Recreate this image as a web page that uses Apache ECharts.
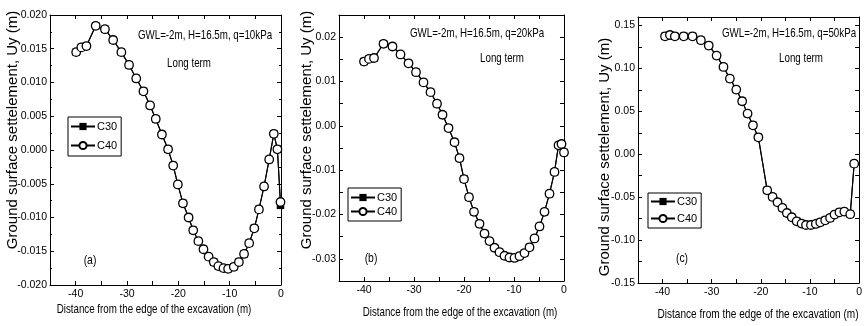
<!DOCTYPE html>
<html>
<head>
<meta charset="utf-8">
<script src="https://cdn.jsdelivr.net/npm/echarts@6/dist/echarts.min.js"></script>
<style>
  html, body { margin: 0; padding: 0; background: #fff; overflow: hidden; }
  #chart { width: 865px; height: 326px; }
</style>
</head>
<body>
<div id="chart"></div>
<script>
// (a) q = 10 kPa
const xA = [-39.9, -38.9, -37.9, -36.1, -34.3, -32.7, -31.1, -29.6, -28.2, -26.8, -25.5, -24.4, -23.2, -22.0, -21.0, -20.1, -19.1, -18.0, -17.1, -16.1, -15.1, -14.1, -13.1, -12.2, -11.2, -10.3, -9.2, -8.2, -7.2, -6.2, -5.2, -4.3, -3.3, -2.3, -1.4, -0.7, -0.1]
const c30A = [0.0145, 0.0152, 0.0154, 0.0184, 0.0179, 0.0163, 0.0145, 0.0126, 0.0106, 0.0087, 0.0066, 0.0046, 0.0023, 0.0001, -0.0023, -0.0051, -0.0079, -0.0100, -0.0119, -0.0135, -0.0147, -0.0158, -0.0166, -0.0172, -0.0175, -0.0176, -0.0173, -0.0166, -0.0154, -0.0138, -0.0116, -0.0088, -0.0054, -0.0014, 0.0024, 0.0001, -0.0082]
const c40A = [0.0145, 0.0152, 0.0154, 0.0184, 0.0179, 0.0163, 0.0145, 0.0126, 0.0106, 0.0087, 0.0066, 0.0046, 0.0023, 0.0001, -0.0023, -0.0051, -0.0079, -0.0100, -0.0119, -0.0135, -0.0147, -0.0158, -0.0166, -0.0172, -0.0175, -0.0176, -0.0173, -0.0166, -0.0154, -0.0138, -0.0116, -0.0088, -0.0054, -0.0014, 0.0024, 0.0001, -0.0077]

// (b) q = 20 kPa
const xB = [-40.0, -39.0, -38.0, -36.1, -34.3, -32.7, -31.1, -29.6, -28.1, -26.7, -25.4, -24.3, -23.1, -21.9, -20.9, -20.0, -19.0, -18.0, -16.9, -15.9, -14.9, -13.9, -12.9, -11.9, -10.9, -9.9, -8.9, -7.9, -6.9, -5.9, -4.9, -3.9, -2.9, -1.9, -1.1, -0.5, 0.0]
const c30B = [0.0145, 0.0151, 0.0153, 0.0185, 0.0179, 0.0161, 0.0141, 0.0121, 0.0098, 0.0076, 0.0050, 0.0025, -0.0005, -0.0037, -0.0073, -0.0120, -0.0161, -0.0194, -0.0221, -0.0243, -0.0260, -0.0275, -0.0285, -0.0293, -0.0297, -0.0298, -0.0294, -0.0287, -0.0274, -0.0254, -0.0227, -0.0194, -0.0153, -0.0104, -0.0044, -0.0041, -0.0060]
const c40B = [0.0145, 0.0151, 0.0153, 0.0185, 0.0179, 0.0161, 0.0141, 0.0121, 0.0098, 0.0076, 0.0050, 0.0025, -0.0005, -0.0037, -0.0073, -0.0120, -0.0161, -0.0194, -0.0221, -0.0243, -0.0260, -0.0275, -0.0285, -0.0293, -0.0297, -0.0298, -0.0294, -0.0287, -0.0274, -0.0254, -0.0227, -0.0194, -0.0153, -0.0104, -0.0044, -0.0041, -0.0060]

// (c) q = 50 kPa
const xC = [-39.5, -38.5, -37.5, -35.7, -33.9, -32.2, -30.6, -29.0, -27.6, -26.3, -25.0, -23.8, -22.7, -21.6, -20.5, -18.7, -17.6, -16.6, -15.6, -14.7, -13.7, -12.7, -11.7, -10.8, -9.8, -8.8, -7.9, -6.9, -5.9, -5.0, -4.0, -3.0, -1.8, -1.0]
const c30C = [0.1375, 0.1390, 0.1375, 0.1375, 0.1375, 0.1330, 0.1267, 0.1150, 0.1018, 0.0882, 0.0754, 0.0618, 0.0474, 0.0338, 0.0198, -0.0420, -0.0497, -0.0559, -0.0625, -0.0684, -0.0734, -0.0781, -0.0808, -0.0824, -0.0824, -0.0812, -0.0793, -0.0769, -0.0742, -0.0703, -0.0676, -0.0668, -0.0698, -0.0109]
const c40C = [0.1375, 0.1390, 0.1375, 0.1375, 0.1375, 0.1330, 0.1267, 0.1150, 0.1018, 0.0882, 0.0754, 0.0618, 0.0474, 0.0338, 0.0198, -0.0420, -0.0497, -0.0559, -0.0625, -0.0684, -0.0734, -0.0781, -0.0808, -0.0824, -0.0824, -0.0812, -0.0793, -0.0769, -0.0742, -0.0703, -0.0676, -0.0668, -0.0698, -0.0109]

// tick labels
const xTickLabels = [-40, -30, -20, -10, 0]
const yTickLabelsA = [-0.020, -0.015, -0.010, -0.005, 0.000, 0.005, 0.010, 0.015, 0.020]
const yTickLabelsB = [-0.03, -0.02, -0.01, 0.00, 0.01, 0.02]
const yTickLabelsC = [-0.15, -0.10, -0.05, 0.00, 0.05, 0.10, 0.15]

const seriesNames = ['C30', 'C40']
const titles = ['GWL=-2m, H=16.5m, q=10kPa', 'GWL=-2m, H=16.5m, q=20kPa', 'GWL=-2m, H=16.5m, q=50kPa']
const xName = 'Distance from the edge of the excavation (m)'
const yName = 'Ground surface settelement, Uy (m)'

const FONT = '"Liberation Sans", Arial, sans-serif'
const SQUEEZE = 0.8 // the original uses a narrow face

const chart = echarts.init(document.getElementById('chart'))

function hasLabel(list, v) {
  return list.some((t) => Math.abs(t - v) < 1e-6)
}

function buildPanel(i, xs, c30, c40, yMin, yMax, yStep, yLabels, yDec, minor) {
  const tickStyle = { inside: true, length: 4, lineStyle: { color: '#000', width: 1 } }
  const lineStyle = { onZero: false, lineStyle: { color: '#000', width: 1 } }
  const labelStyle = { color: '#000', fontSize: 10.5, fontFamily: FONT }
  const xBase = {
    type: 'value', gridIndex: i, min: -45, max: 0, interval: 5,
    axisLine: lineStyle, axisTick: tickStyle, splitLine: { show: false },
  }
  const yBase = {
    type: 'value', gridIndex: i, min: yMin, max: yMax, interval: yStep,
    axisLine: lineStyle, axisTick: tickStyle, splitLine: { show: false },
    minorTick: { show: minor, splitNumber: 2, length: 2, lineStyle: { color: '#000' } },
    minorSplitLine: { show: false },
  }
  const xAxis = [
    Object.assign({}, xBase, {
      position: 'bottom',
      axisLabel: Object.assign({ margin: 4, formatter: (v) => (hasLabel(xTickLabels, v) ? String(Math.round(v)) : '') }, labelStyle),
    }),
    Object.assign({}, xBase, { position: 'top', axisLabel: { show: false } }),
  ]
  const yAxis = [
    Object.assign({}, yBase, {
      position: 'left',
      axisLabel: Object.assign({ margin: 3, formatter: (v) => (hasLabel(yLabels, v) ? v.toFixed(yDec) : '') }, labelStyle),
    }),
    Object.assign({}, yBase, { position: 'right', axisLabel: { show: false } }),
  ]
  const series = [
    {
      name: seriesNames[0], type: 'line', xAxisIndex: 2 * i, yAxisIndex: 2 * i,
      data: xs.map((x, k) => [x, c30[k]]),
      symbol: 'rect', symbolSize: 7.5, z: 2,
      itemStyle: { color: '#000' },
      lineStyle: { color: '#000', width: 1.1 },
    },
    {
      name: seriesNames[1], type: 'line', xAxisIndex: 2 * i, yAxisIndex: 2 * i,
      data: xs.map((x, k) => [x, c40[k]]),
      symbol: 'circle', symbolSize: 8.5, z: 3,
      itemStyle: { color: '#fff', borderColor: '#000', borderWidth: 1.3 },
      lineStyle: { color: '#000', width: 1.1 },
    },
  ]
  return { xAxis, yAxis, series }
}

const pA = buildPanel(0, xA, c30A, c40A, -0.02, 0.02, 0.005, yTickLabelsA, 3, true)
const pB = buildPanel(1, xB, c30B, c40B, -0.035, 0.025, 0.005, yTickLabelsB, 2, false)
const pC = buildPanel(2, xC, c30C, c40C, -0.15, 0.16, 0.025, yTickLabelsC, 2, false)

function legendAt(left, top, gap, pad) {
  return {
    left, top, orient: 'vertical', data: seriesNames,
    borderColor: '#000', borderWidth: 1, padding: pad, itemGap: gap,
    itemWidth: 24, itemHeight: 9, selectedMode: false,
    textStyle: { color: '#000', fontSize: 11, fontFamily: FONT, padding: [0, 0, 0, -3] },
  }
}

function txt(x, y, text, size, rot, sx) {
  return {
    type: 'text', x, y, rotation: rot || 0, scaleX: sx || 1, silent: true,
    style: { text, fill: '#000', fontSize: size, fontFamily: FONT, textAlign: 'center', textVerticalAlign: 'middle' },
  }
}

const option = {
  animation: false,
  grid: [
    { left: 50, top: 15, width: 231, height: 270 },
    { left: 339, top: 15, width: 225, height: 266 },
    { left: 638, top: 17, width: 229.5, height: 266 },
  ],
  xAxis: [...pA.xAxis, ...pB.xAxis, ...pC.xAxis],
  yAxis: [...pA.yAxis, ...pB.yAxis, ...pC.yAxis],
  series: [...pA.series, ...pB.series, ...pC.series],
  legend: [
    legendAt(68, 117, 8, [4, 4, 5, 2]),
    legendAt(348, 188, 3, [4, 4, 4, 2]),
    legendAt(648, 193, 6, [3, 4, 4, 2]),
  ],
  graphic: [
    txt(205, 36, titles[0], 12.2, 0, SQUEEZE),
    txt(189, 64, 'Long term', 12.2, 0, SQUEEZE),
    txt(90, 260, '(a)', 13, 0, SQUEEZE),
    txt(154, 310, xName, 12.2, 0, SQUEEZE),
    txt(13, 130, yName, 15, Math.PI / 2),

    txt(477, 34, titles[1], 12.2, 0, SQUEEZE),
    txt(502, 59, 'Long term', 12.2, 0, SQUEEZE),
    txt(371, 258, '(b)', 13, 0, SQUEEZE),
    txt(460, 313, xName, 12.2, 0, SQUEEZE),
    txt(307, 130, yName, 15, Math.PI / 2),

    txt(789, 34, titles[2], 12.2, 0, SQUEEZE),
    txt(801, 59, 'Long term', 12.2, 0, SQUEEZE),
    txt(682, 258, '(c)', 13, 0, SQUEEZE),
    txt(758, 315, xName, 12.6, 0, SQUEEZE),
    txt(605, 157, yName, 15, Math.PI / 2),
  ],
}

chart.setOption(option)
</script>
</body>
</html>
